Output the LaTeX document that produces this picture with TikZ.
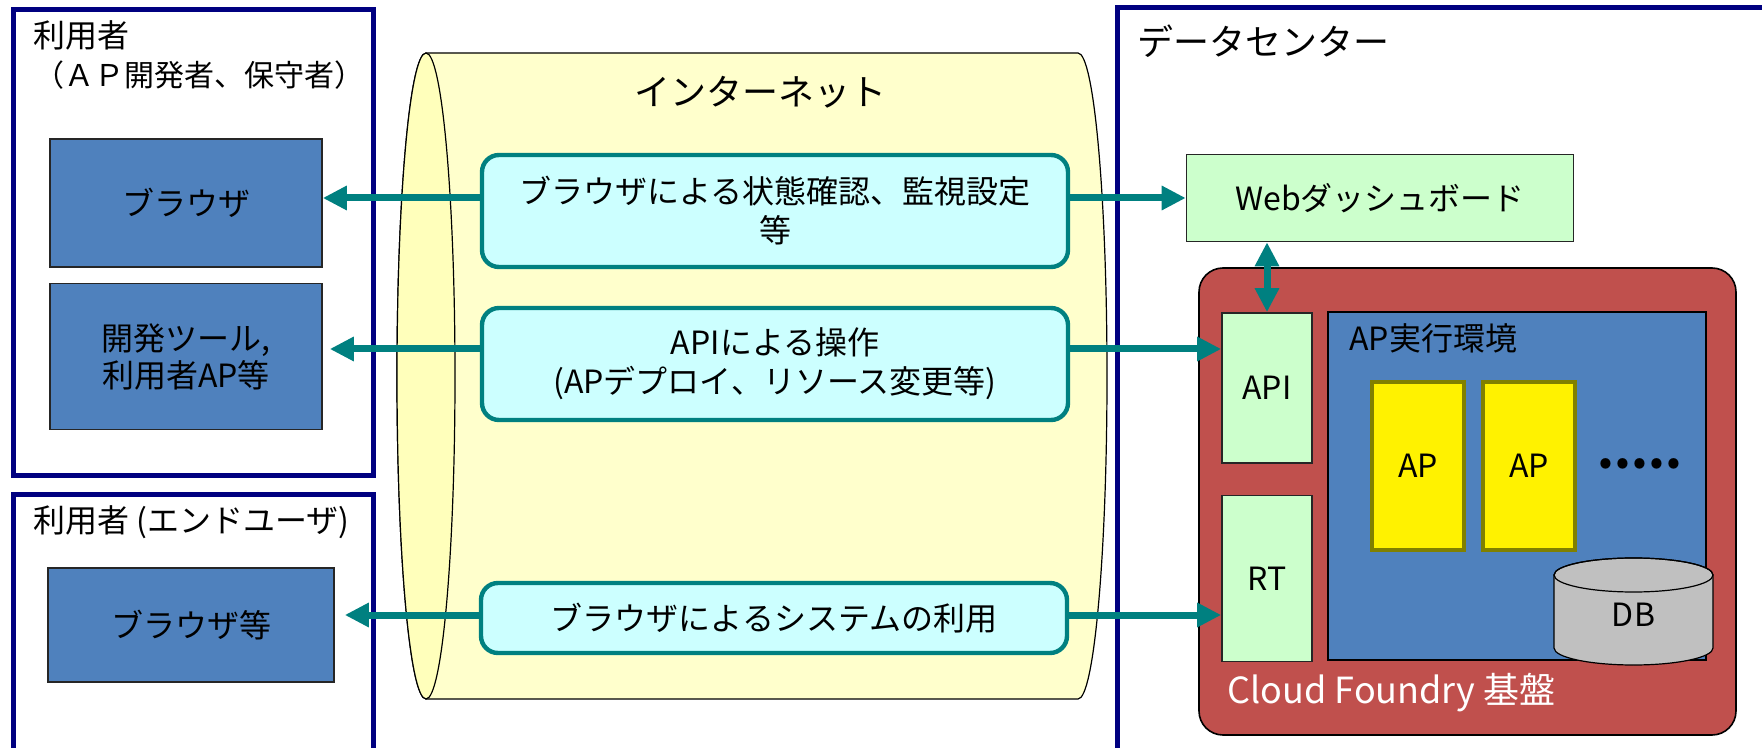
\documentclass[tikz,border=0pt]{standalone}
\usepackage{fontspec}
\setmainfont{Noto Sans CJK JP}
\usepackage{xcolor}
\usepackage{tikz}
\usetikzlibrary{arrows.meta, positioning}
\definecolor{navyline}{HTML}{000080}
\definecolor{tealline}{HTML}{008080}
\definecolor{cyanfill}{HTML}{CCFFFF}
\definecolor{mintfill}{HTML}{CCFFCC}
\definecolor{bluefill}{HTML}{4F81BD}
\definecolor{cfred}{HTML}{C0504D}
\definecolor{apborder}{HTML}{808000}
\definecolor{netfill}{HTML}{FFFFCC}
\definecolor{netend}{HTML}{FFFFBB}
\definecolor{dbfill}{HTML}{C0C0C0}
\tikzstyle{area} = [draw=navyline, line width=2.5pt, fill=white]
\tikzstyle{areatitle} = [inner sep=0pt, font=\fontsize{16}{20}\selectfont]
\tikzstyle{client} = [draw=black!85, line width=0.8pt, fill=bluefill, align=center, font=\fontsize{16}{18.5}\selectfont]
\tikzstyle{route} = [draw=tealline, line width=2.2pt, fill=cyanfill, rounded corners=8.5pt, minimum width=293pt, align=center, font=\fontsize{16}{19.5}\selectfont]
\tikzstyle{service} = [draw=black!85, line width=0.8pt, fill=mintfill, align=center, font=\fontsize{16}{18}\selectfont]
\tikzstyle{app} = [draw=apborder, line width=2pt, fill=yellow, minimum width=46pt, minimum height=83.5pt, font=\fontsize{16}{18}\selectfont]
\tikzstyle{netline} = [draw=black, line width=0.6pt]
\tikzstyle{flow} = [draw=tealline, line width=3.5pt, -{Triangle[length=12pt,width=11.5pt]}]
\tikzstyle{flowboth} = [draw=tealline, line width=3.5pt, {Triangle[length=12pt,width=11.5pt]}-{Triangle[length=12pt,width=11.5pt]}]

\begin{document}
\begin{tikzpicture}[x=0.5pt, y=-0.5pt, >=Stealth]
        \useasboundingbox (0,0) rectangle (1762,748);

        % Users (developers, maintainers)
        \node[area, minimum width=180pt, minimum height=233pt] (devarea) at (193,242.5) {};
        \node[areatitle, anchor=west] (devtitle) at (33,35) {利用者};
        \node[areatitle, anchor=west, font=\fontsize{15}{18}\selectfont] (devsub) at (34,75) {（ＡＰ開発者、保守者）};
        \node[client, minimum width=136pt, minimum height=64pt] (browser) at (186,203) {ブラウザ};
        \node[client, minimum width=136pt, minimum height=73pt, below=7.5pt of browser] (tools) {開発ツール,\\利用者AP等};

        % End users
        \node[area, minimum width=180pt, minimum height=127.5pt] (endarea) at (193,622.5) {};
        \node[areatitle, anchor=west] (endtitle) at (33,522) {利用者 (エンドユーザ)};
        \node[client, minimum width=143pt, minimum height=57pt] (endbrowser) at (191,625) {ブラウザ等};

        % Data center
        \node[area, minimum width=329pt, minimum height=371pt] (dcarea) at (1446,379) {};
        \node[areatitle, anchor=west, font=\fontsize{18}{20}\selectfont] (dctitle) at (1137,41) {データセンター};

        % Internet cylinder
        \draw[netline, fill=netfill] (426,53) -- (1078,53)
            arc[start angle=-90, end angle=90, x radius=29, y radius=323] -- (426,699)
            arc[start angle=90, end angle=270, x radius=29, y radius=323] -- cycle;
        \draw[netline, fill=netend] (426,376) ellipse[x radius=29, y radius=323];
        \node[font=\fontsize{18}{20}\selectfont] (nettitle) at (760,92) {インターネット};

        % Traffic over the internet
        \node[route, minimum height=56pt] (via1) at (775,211) {ブラウザによる状態確認、監視設定\\等};
        \node[route, minimum height=56pt] (via2) at (775,364) {APIによる操作\\(APデプロイ、リソース変更等)};
        \node[route, minimum height=35pt] (via3) at (774,618) {ブラウザによるシステムの利用};

        % Cloud Foundry platform
        \node[service, minimum width=193.5pt, minimum height=43.5pt] (web) at (1380,198) {Webダッシュボード};
        \node[draw=black, line width=0.8pt, fill=cfred, rounded corners=12pt, minimum width=268.5pt, minimum height=233.5pt] (cf) at (1467.5,501.5) {};
        \node[anchor=west, inner sep=0pt, text=white, font=\fontsize{18}{20}\selectfont] (cftitle) at (1227,693) {Cloud Foundry 基盤};
        \node[service, minimum width=45pt, minimum height=75pt] (api) at (1267,388) {API};
        \node[service, minimum width=45pt, minimum height=83pt, below=15.5pt of api] (rt) {RT};
        \node[draw=black, line width=0.8pt, fill=bluefill, minimum width=189pt, minimum height=174pt] (env) at (1517,486) {};
        \node[anchor=west, inner sep=0pt, font=\fontsize{16}{18}\selectfont] (envtitle) at (1349,338) {AP実行環境};
        \node[app] (ap1) at (1418,466) {AP};
        \node[app, right=7.5pt of ap1] (ap2) {AP};
        \node[font=\fontsize{24}{24}\selectfont\bfseries] (more) at (1640,464) {.....};

        % Database
        \draw[netline, fill=dbfill] (1554,575) -- (1554,648)
            arc[start angle=180, end angle=0, x radius=79.5, y radius=17] -- (1713,575)
            arc[start angle=0, end angle=-180, x radius=79.5, y radius=17] -- cycle;
        \draw[netline] (1633.5,575) ellipse[x radius=79.5, y radius=17];
        \node[font=\fontsize{16}{18}\selectfont] (db) at (1633.5,615) {DB};

        % Arrows
        \coordinate (row1) at (0,198);
        \coordinate (row2) at (0,349);
        \coordinate (row3) at (0,615);
        \draw[flow] (via1.west |- row1) -- (browser.east |- row1);
        \draw[flow] (via1.east |- row1) -- (web.west |- row1);
        \draw[flow, shorten >=3.5pt] (via2.west |- row2) -- (tools.east |- row2);
        \draw[flow] (via2.east |- row2) -- (api.west |- row2);
        \draw[flow, shorten >=5pt] (via3.west |- row3) -- (endbrowser.east |- row3);
        \draw[flow] (via3.east |- row3) -- (rt.west |- row3);
        \draw[flowboth] (api.north |- web.south) -- (api.north);

    \end{tikzpicture}
\end{document}
